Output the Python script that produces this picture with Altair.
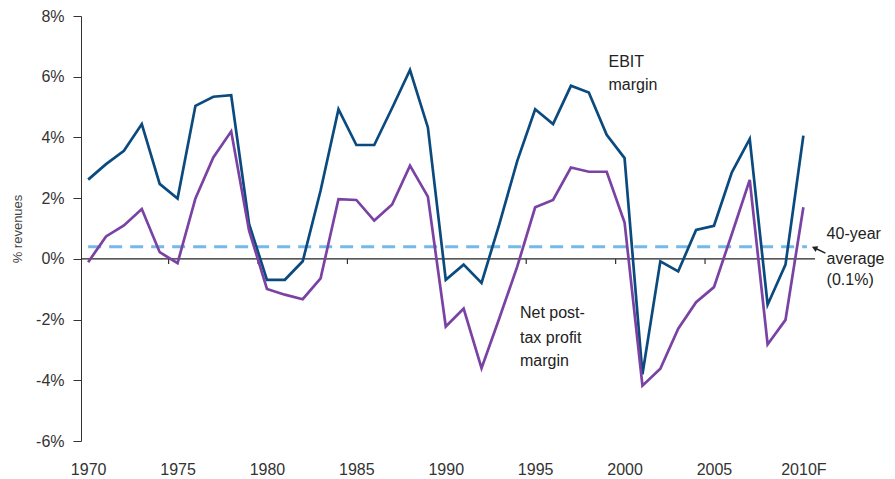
import altair as alt
import pandas as pd

years = list(range(1970, 2011))
ebit = [2.61, 3.12, 3.56, 4.44, 2.47, 1.99, 5.04, 5.34, 5.39, 1.15,
        -0.69, -0.69, -0.08, 2.25, 4.93, 3.75, 3.75, 4.97, 6.22, 4.33,
        -0.69, -0.19, -0.79, 1.15, 3.23, 4.93, 4.44, 5.70, 5.48, 4.09,
        3.32, -3.80, -0.08, -0.41, 0.95, 1.09, 2.85, 3.95, -1.51, -0.19,
        4.06]
net = [-0.11, 0.74, 1.10, 1.64, 0.22, -0.14, 1.99, 3.34, 4.20, 0.93,
       -0.99, -1.18, -1.33, -0.64, 1.97, 1.94, 1.26, 1.79, 3.07, 2.05,
       -2.23, -1.64, -3.60, -1.95, -0.25, 1.70, 1.94, 3.01, 2.87, 2.87,
       1.20, -4.18, -3.62, -2.30, -1.43, -0.93, 0.82, 2.60, -2.82, -2.01,
       1.70]
avg_level = 0.4
avg_span = [1970, 2010.2]
year_ticks = [1970, 1975, 1980, 1985, 1990, 1995, 2000, 2005, 2010]
minor_ticks = [1974.5, 1979.5, 1984.5, 1989.5, 1994.5, 1999.5, 2004.5, 2009.5]
y_ticks = [-6, -4, -2, 0, 2, 4, 6, 8]

ann_text = ["EBIT", "margin", "Net post-", "tax profit", "margin",
            "40-year", "average", "(0.1%)"]
ann_x = [1999.1, 1999.1, 1994.15, 1994.15, 1994.15, 2011.3, 2011.3, 2011.3]
ann_y = [6.31, 5.57, -1.96, -2.77, -3.54, 0.66, -0.16, -0.87]

arrow_tail = [2011.23, 0.19]
arrow_head = [2010.5, 0.39]

X_DOM = [1969.6, 2010.65]
Y_DOM = [-6, 8]

df = pd.DataFrame({"year": years * 2,
                   "value": ebit + net,
                   "series": ["EBIT"] * len(years) + ["Net"] * len(years)})

xs = alt.Scale(domain=X_DOM, nice=False, zero=False)
ys = alt.Scale(domain=Y_DOM, nice=False, zero=False)

FONT = "Liberation Sans"

x_axis = alt.Axis(values=year_ticks, title=None, ticks=False, domain=False, grid=False,
                  labelExpr="datum.value == 2010 ? '2010F' : '' + datum.value",
                  labelFontSize=16, labelColor="#333", labelFont=FONT, labelPadding=20)
y_axis = alt.Axis(values=y_ticks, title="% revenues", grid=False,
                  labelExpr="datum.value + '%'", labelFontSize=16, labelColor="#333",
                  labelFont=FONT, labelPadding=9, tickSize=8, tickColor="#333",
                  domainColor="#333", titleFont=FONT, titleFontSize=13,
                  titleFontWeight="normal", titleColor="#444", titlePadding=11)

base_lines = alt.Chart(df).mark_line(strokeWidth=2.7).encode(
    x=alt.X("year:Q", scale=xs, axis=x_axis),
    y=alt.Y("value:Q", scale=ys, axis=y_axis),
    color=alt.Color("series:N", scale=alt.Scale(domain=["EBIT", "Net"],
                                                range=["#0b4a7e", "#7a42a3"]), legend=None),
)

zero_df = pd.DataFrame({"x": [X_DOM[0]], "x2": [X_DOM[1]], "y": [0]})
zero_rule = alt.Chart(zero_df).mark_rule(color="#222", strokeWidth=1.2).encode(
    x="x:Q", x2="x2:Q", y="y:Q")

tick_df = pd.DataFrame({"x": minor_ticks, "y": [0] * len(minor_ticks),
                        "y2": [-0.17] * len(minor_ticks)})
tick_rules = alt.Chart(tick_df).mark_rule(color="#333", strokeWidth=1.2).encode(
    x="x:Q", y="y:Q", y2="y2:Q")

avg_df = pd.DataFrame({"x": [avg_span[0]], "x2": [avg_span[1]], "y": [avg_level]})
avg_rule = alt.Chart(avg_df).mark_rule(color="#74b9e7", strokeWidth=3,
                                       strokeDash=[13, 8]).encode(
    x="x:Q", x2="x2:Q", y="y:Q")

ann_df = pd.DataFrame({"t": ann_text, "x": ann_x, "y": ann_y})
ann = alt.Chart(ann_df).mark_text(align="left", baseline="alphabetic", font=FONT,
                                  fontSize=16, color="#222").encode(
    x="x:Q", y="y:Q", text="t:N")

arrow_df = pd.DataFrame({"x": [arrow_tail[0]], "y": [arrow_tail[1]],
                         "x2": [arrow_head[0] + 0.2], "y2": [arrow_head[1] - 0.05]})
arrow_line = alt.Chart(arrow_df).mark_rule(color="#222", strokeWidth=1.5).encode(
    x="x:Q", y="y:Q", x2="x2:Q", y2="y2:Q")
head_df = pd.DataFrame({"x": [arrow_head[0] + 0.12], "y": [arrow_head[1] - 0.03]})
arrow_head_mark = alt.Chart(head_df).mark_point(shape="triangle-left", filled=True,
                                                size=40, angle=24, color="#222",
                                                opacity=1).encode(
    x="x:Q", y="y:Q")

chart = alt.layer(avg_rule, zero_rule, tick_rules, base_lines, ann,
                  arrow_line, arrow_head_mark).properties(
    width=734, height=425,
    autosize=alt.AutoSizeParams(type="none"),
    padding={"left": 73, "top": 8, "right": 72, "bottom": 37},
).configure_view(stroke=None)

chart.save("out.html", embed_options={"renderer": "svg", "actions": False})
